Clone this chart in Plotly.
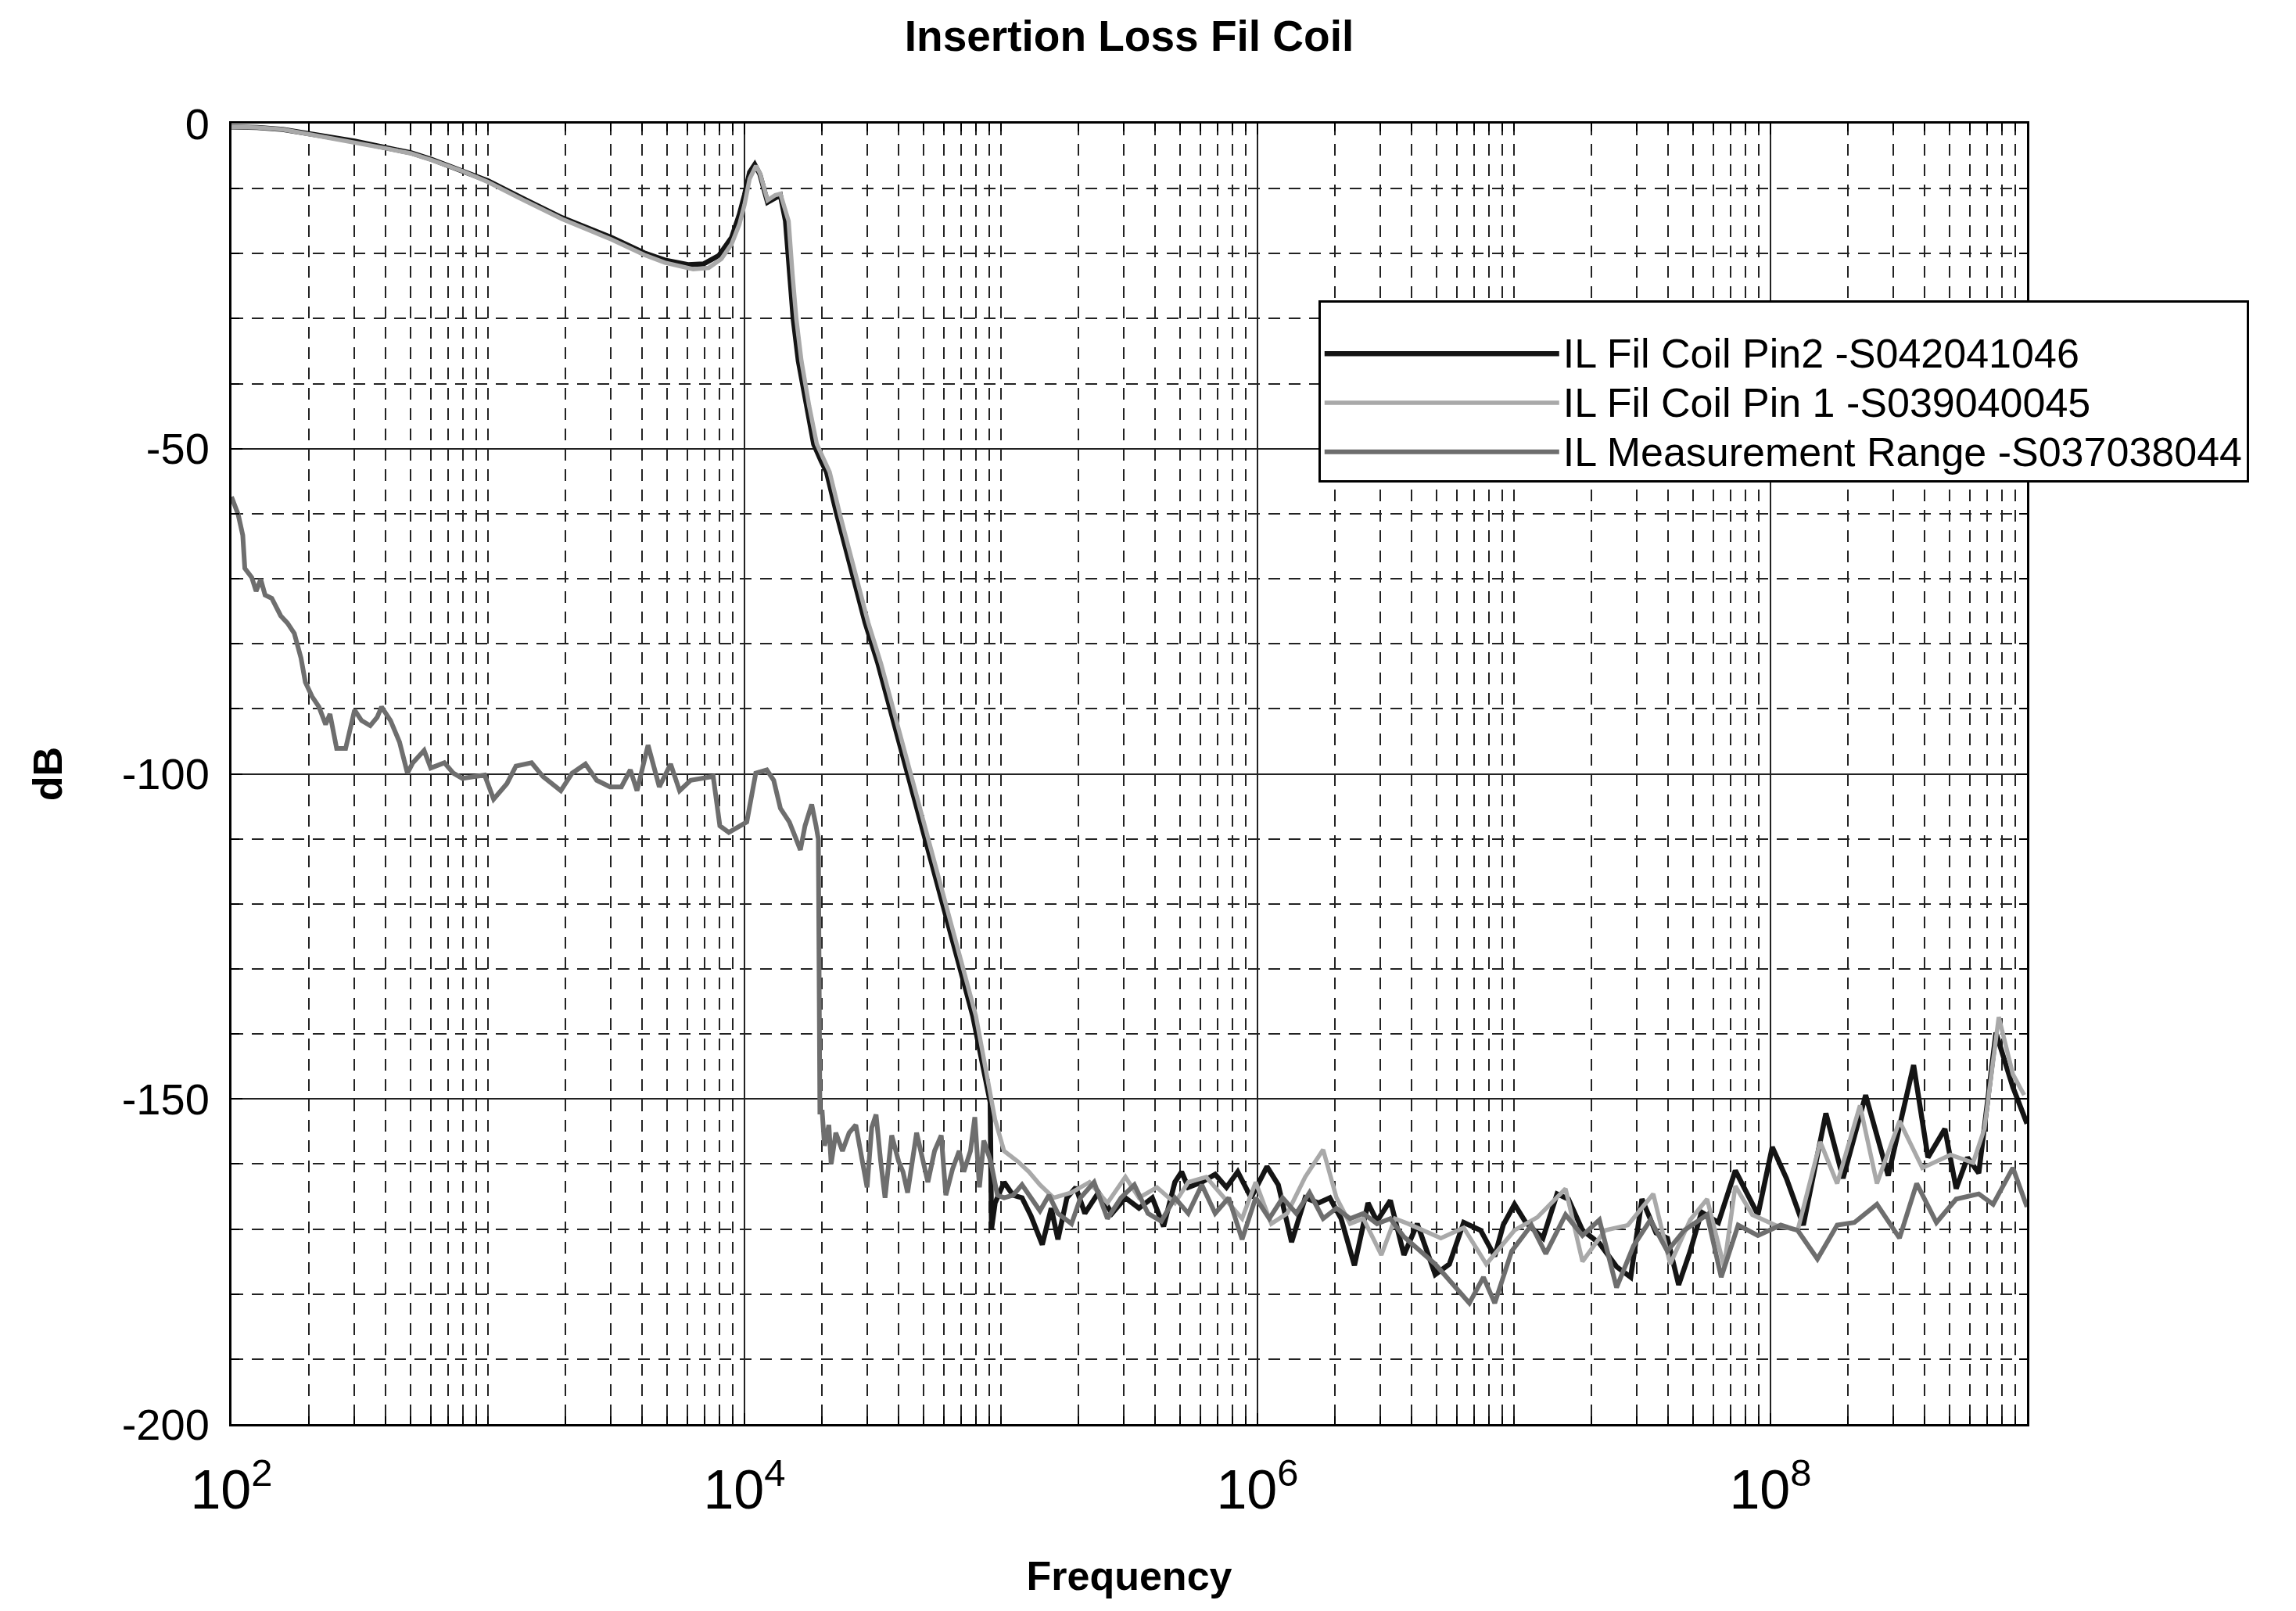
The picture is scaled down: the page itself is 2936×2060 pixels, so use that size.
import plotly.graph_objects as go

# ---------------- data (frequency as log10(Hz), level in dB) ----------------
pin2_logf = [2.00, 2.10, 2.20, 2.30, 2.48, 2.60, 2.70, 2.78, 2.90, 3.00, 3.14, 3.29, 3.48, 3.61, 3.69,
             3.78, 3.84, 3.90, 3.95, 3.98, 4.00, 4.02, 4.04, 4.06, 4.09, 4.12, 4.14, 4.16, 4.175, 4.19,
             4.21, 4.24, 4.27, 4.30, 4.32, 4.36, 4.41, 4.47, 4.52, 4.60, 4.70, 4.80, 4.89, 4.958, 4.963,
             4.977, 5.012, 5.047, 5.082, 5.117, 5.161, 5.196, 5.222, 5.257, 5.292, 5.327, 5.380, 5.433,
             5.485, 5.538, 5.590, 5.634, 5.678, 5.704, 5.730, 5.783, 5.835, 5.879, 5.923, 5.975, 6.037,
             6.081, 6.133, 6.186, 6.238, 6.282, 6.326, 6.378, 6.431, 6.466, 6.518, 6.571, 6.623, 6.693,
             6.748, 6.804, 6.870, 6.925, 6.958, 7.002, 7.046, 7.113, 7.168, 7.212, 7.267, 7.333, 7.400,
             7.455, 7.499, 7.554, 7.598, 7.642, 7.687, 7.731, 7.797, 7.863, 7.918, 7.951, 8.007, 8.062,
             8.128, 8.216, 8.283, 8.371, 8.459, 8.558, 8.614, 8.680, 8.724, 8.768, 8.812, 8.879, 8.945,
             9.000]
pin2_db = [-0.5, -0.6, -0.9, -1.5, -2.7, -3.7, -4.5, -5.5, -7.2, -8.8, -11.6, -14.5, -17.5, -19.9, -21.0,
           -21.7, -21.6, -20.3, -17.5, -14.0, -11.0, -7.5, -6.3, -7.8, -12.1, -11.3, -11.0, -15.0, -23.1, -30.0,
           -36.5, -43.4, -49.3, -52.0, -53.6, -60.1, -67.6, -76.7, -83.0, -94.6, -109.2, -123.8, -137.2, -150.5, -170.0,
           -166.0, -162.8, -164.8, -165.2, -168.0, -172.4, -166.8, -171.6, -165.2, -163.6, -167.6, -164.4, -167.6,
           -165.2, -166.8, -165.2, -169.6, -162.8, -161.2, -163.6, -162.8, -161.6, -163.6, -161.2, -165.2, -160.4,
           -163.2, -172.0, -165.2, -166.0, -165.2, -168.4, -175.6, -166.0, -168.8, -165.6, -174.0, -169.2, -177.0,
           -175.4, -169.0, -170.2, -174.2, -169.4, -166.2, -169.0, -171.4, -164.6, -165.4, -170.2, -172.2, -175.8,
           -177.4, -165.4, -170.6, -171.4, -178.6, -173.4, -167.4, -169.0, -161.0, -165.0, -167.8, -157.4, -162.2,
           -169.4, -152.2, -162.2, -149.4, -161.8, -144.8, -159.0, -154.6, -163.8, -159.0, -161.4, -139.8, -148.2,
           -153.8]

pin1_logf = [2.00, 2.10, 2.20, 2.30, 2.48, 2.60, 2.70, 2.78, 2.90, 3.00, 3.14, 3.29, 3.48, 3.61, 3.69,
             3.80, 3.86, 3.91, 3.95, 3.98, 4.00, 4.02, 4.045, 4.06, 4.09, 4.12, 4.14, 4.172, 4.187, 4.202,
             4.222, 4.252, 4.282, 4.312, 4.332, 4.372, 4.422, 4.482, 4.532, 4.612, 4.712, 4.812, 4.902, 4.977, 5.012,
             5.065, 5.109, 5.152, 5.205, 5.275, 5.345, 5.415, 5.485, 5.538, 5.608, 5.678, 5.730, 5.800,
             5.870, 5.940, 5.993, 6.054, 6.116, 6.186, 6.256, 6.308, 6.361, 6.413, 6.483, 6.536, 6.588,
             6.715, 6.804, 6.892, 7.002, 7.091, 7.201, 7.267, 7.355, 7.444, 7.543, 7.609, 7.687, 7.753,
             7.819, 7.863, 7.929, 8.018, 8.106, 8.194, 8.260, 8.349, 8.415, 8.503, 8.592, 8.702, 8.790,
             8.834, 8.890, 8.945, 8.989]
pin1_db = [-0.5, -0.6, -0.9, -1.6, -2.8, -3.8, -4.6, -5.6, -7.3, -9.0, -11.8, -14.7, -17.8, -20.2, -21.4,
           -22.4, -22.2, -20.8, -18.5, -15.5, -12.5, -8.5, -6.5, -7.6, -11.8, -11.0, -10.8, -15.0, -23.1, -30.0,
           -36.5, -43.4, -49.3, -52.0, -53.6, -60.1, -67.6, -76.7, -83.0, -94.6, -109.2, -123.8, -137.2, -153.2, -158.0,
           -159.6, -161.2, -163.2, -165.2, -164.4, -162.8, -166.0, -162.0, -165.2, -163.6, -166.0, -162.8, -162.0,
           -165.2, -168.4, -162.8, -169.2, -167.6, -162.0, -157.8, -165.2, -169.2, -168.4, -174.0, -168.4, -169.2,
           -171.4, -169.8, -175.4, -170.2, -168.2, -163.8, -175.0, -170.2, -169.4, -164.6, -175.4, -168.6, -165.4,
           -175.8, -163.4, -167.8, -169.4, -170.2, -156.6, -163.0, -151.0, -163.0, -153.4, -160.6, -158.6, -159.8,
           -154.6, -137.4, -146.2, -149.4]

meas_logf = [2.000, 2.026, 2.044, 2.052, 2.079, 2.096, 2.114, 2.131, 2.157, 2.192, 2.218, 2.245, 2.271, 2.288,
             2.314, 2.341, 2.367, 2.384, 2.410, 2.445, 2.480, 2.507, 2.541, 2.568, 2.585, 2.620, 2.655, 2.686,
             2.707, 2.751, 2.777, 2.830, 2.865, 2.900, 2.952, 2.987, 3.022, 3.074, 3.109, 3.170, 3.214, 3.284,
             3.328, 3.380, 3.424, 3.476, 3.520, 3.555, 3.581, 3.624, 3.668, 3.712, 3.747, 3.790, 3.878, 3.904,
             3.939, 3.983, 4.009, 4.044, 4.087, 4.114, 4.140, 4.175, 4.192, 4.218, 4.236, 4.262, 4.279, 4.288,
             4.294, 4.303, 4.312, 4.329, 4.338, 4.356, 4.382, 4.408, 4.434, 4.452, 4.478, 4.496, 4.513, 4.531,
             4.548, 4.574, 4.601, 4.618, 4.636, 4.671, 4.697, 4.715, 4.741, 4.767, 4.785, 4.811, 4.837, 4.855,
             4.881, 4.898, 4.916, 4.933, 4.960, 4.986, 5.012, 5.047, 5.082, 5.117, 5.152, 5.187, 5.222, 5.275,
             5.310, 5.363, 5.415, 5.468, 5.520, 5.573, 5.625, 5.678, 5.730, 5.783, 5.835, 5.888, 5.940, 5.993,
             6.046, 6.098, 6.151, 6.203, 6.256, 6.308, 6.361, 6.413, 6.466, 6.518, 6.571, 6.693, 6.826, 6.881,
             6.925, 6.991, 7.068, 7.124, 7.201, 7.267, 7.333, 7.400, 7.466, 7.532, 7.598, 7.664, 7.753, 7.808,
             7.874, 7.951, 8.040, 8.106, 8.183, 8.260, 8.327, 8.415, 8.503, 8.570, 8.647, 8.724, 8.812, 8.868,
             8.945, 9.000]
meas_db = [-57.4, -60.1, -63.3, -68.4, -69.8, -71.9, -70.1, -72.5, -73.0, -75.7, -76.8, -78.4, -82.2, -85.9,
           -88.1, -89.7, -92.4, -90.8, -96.1, -96.1, -90.2, -91.8, -92.6, -91.3, -89.7, -91.8, -95.1, -99.9,
           -98.3, -96.4, -99.1, -98.3, -99.9, -100.7, -100.4, -100.2, -103.9, -101.5, -98.8, -98.3, -100.4, -102.6,
           -99.9, -98.5, -101.0, -102.0, -102.0, -99.4, -102.6, -95.6, -102.0, -98.5, -102.6, -101.0, -100.4, -108.0,
           -109.0, -108.0, -107.4, -99.9, -99.4, -101.0, -105.3, -107.4, -109.0, -111.7, -108.0, -104.7, -108.0, -110.0,
           -152.0, -152.0, -157.2, -154.0, -160.0, -155.2, -158.0, -155.2, -154.0, -157.6, -163.6, -154.4, -152.4, -159.6,
           -165.2, -155.6, -159.6, -161.2, -164.4, -155.2, -159.6, -162.8, -158.0, -155.6, -164.8, -160.8, -158.0, -161.2,
           -158.0, -152.8, -163.6, -156.4, -159.6, -164.8, -165.2, -164.8, -163.2, -165.2, -167.2, -164.8, -167.6, -169.2,
           -165.2, -162.8, -168.4, -165.2, -163.2, -167.6, -168.8, -165.2, -167.6, -163.2, -167.6, -165.2, -171.6, -165.2,
           -168.4, -165.2, -167.6, -164.4, -168.4, -166.8, -168.4, -167.6, -169.2, -168.4, -171.2, -175.4, -181.4, -177.4,
           -181.4, -173.4, -169.4, -173.8, -167.8, -171.0, -168.6, -179.0, -172.6, -168.6, -173.4, -170.2, -167.8, -177.4,
           -169.4, -171.0, -169.4, -170.2, -174.6, -169.4, -169.0, -166.2, -171.4, -163.0, -169.0, -165.4, -164.6, -166.2,
           -160.6, -166.6]

series_names = ["IL Fil Coil Pin2 -S042041046",
                "IL Fil Coil Pin 1 -S039040045",
                "IL Measurement Range -S037038044"]
y_tick_vals = [0, -50, -100, -150, -200]
y_tick_text = ["0", "-50", "-100", "-150", "-200"]

# ---------------- figure ----------------
FONT = "Liberation Sans, Arial, sans-serif"


def hz(logs):
    return [10 ** v for v in logs]


def legend_label(name):
    # legend text slightly larger than the font that sets the row spacing
    return '<span style="font-size:52px">' + name + "</span>"


fig = go.Figure()
# drawing order: Pin2 underneath, Pin 1 over it, measurement range on top
fig.add_trace(go.Scatter(x=hz(pin2_logf), y=pin2_db, mode="lines", name=legend_label(series_names[0]),
                         legendrank=1, line=dict(color="#141414", width=6.5)))
fig.add_trace(go.Scatter(x=hz(pin1_logf), y=pin1_db, mode="lines", name=legend_label(series_names[1]),
                         legendrank=2, line=dict(color="#a9a9a9", width=5.5)))
fig.add_trace(go.Scatter(x=hz(meas_logf), y=meas_db, mode="lines", name=legend_label(series_names[2]),
                         legendrank=3, line=dict(color="#6e6e6e", width=6)))

fig.update_layout(
    width=2936, height=2060,
    margin=dict(l=288, r=352, t=150, b=247),
    paper_bgcolor="white", plot_bgcolor="white",
    font=dict(family=FONT, color="black", size=56),
    title=dict(text="<b>Insertion Loss Fil Coil</b>", x=0.5, xref="paper", xanchor="center",
               y=1 - 38 / 2060, yref="container", yanchor="middle",
               font=dict(family=FONT, size=55, color="black")),
    showlegend=True,
    legend=dict(x=0.6053, y=0.864, xanchor="left", yanchor="top",
                bgcolor="white", bordercolor="black", borderwidth=3,
                font=dict(family=FONT, size=46, color="black"),
                title=dict(text=" ", font=dict(size=22)),
                itemwidth=300, tracegroupgap=0),
)

fig.update_xaxes(
    type="log", range=[2, 9], dtick=2, exponentformat="power",
    showline=True, linecolor="black", linewidth=3, mirror="ticks",
    ticks="inside", ticklen=14, tickwidth=2, tickcolor="black",
    showgrid=True, gridcolor="#222222", gridwidth=2,
    tickfont=dict(family=FONT, size=56, color="black"),
    ticklabelstandoff=24,
    minor=dict(dtick="D1", showgrid=True, gridcolor="#222222", gridwidth=2, griddash="15px,11px",
               ticks="inside", ticklen=10, tickwidth=2, tickcolor="black"),
    title=dict(text="<b>Frequency</b>", font=dict(family=FONT, size=52, color="black"), standoff=54),
    zeroline=False,
)
fig.update_yaxes(
    range=[-200, 0], tickvals=y_tick_vals, ticktext=y_tick_text,
    showline=True, linecolor="black", linewidth=3, mirror="ticks",
    ticks="inside", ticklen=14, tickwidth=2, tickcolor="black",
    showgrid=True, gridcolor="#222222", gridwidth=2,
    tickfont=dict(family=FONT, size=56, color="black"),
    ticklabelstandoff=14,
    minor=dict(dtick=10, showgrid=True, gridcolor="#222222", gridwidth=2, griddash="15px,11px",
               ticks="inside", ticklen=10, tickwidth=2, tickcolor="black"),
    title=dict(text="<b>dB</b>", font=dict(family=FONT, size=52, color="black"), standoff=60),
    zeroline=False,
)

fig.write_html("out.html")
